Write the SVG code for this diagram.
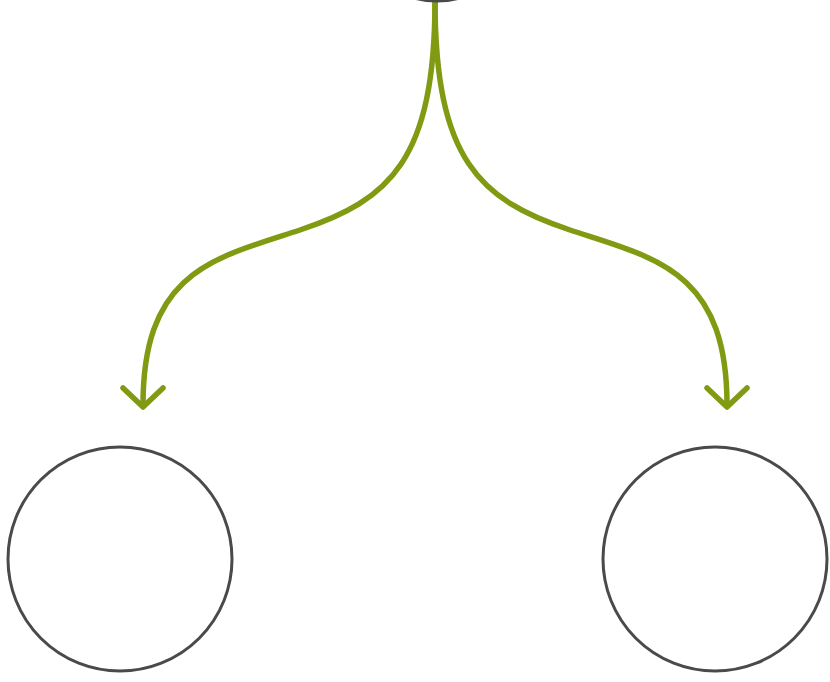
<svg xmlns="http://www.w3.org/2000/svg" width="830" height="682" viewBox="0 0 830 682">
<style>
.node{fill:#fff;stroke:#4a4a4a;stroke-width:3}
.edge{fill:none;stroke:#809a12;stroke-width:5.5;stroke-linecap:round;stroke-linejoin:round}
</style>
<rect width="830" height="682" fill="#fff"/>
<g id="connectors">
<path class="edge" d="M435,0 C435,160 390,200 300,230 C215,258 143,270 143,405"/>
<path class="edge" d="M123,388 L143,407 L163,388"/>
<path class="edge" d="M435,0 C435,160 480,200 570,230 C655,258 727,270 727,405"/>
<path class="edge" d="M707,388 L727,407 L747,388"/>
</g>
<g id="top"><ellipse class="node" cx="437" cy="-30" rx="52" ry="31"/></g>
<g id="left"><circle class="node" cx="120" cy="559" r="112"/></g>
<g id="right"><circle class="node" cx="715" cy="559" r="112"/></g>
</svg>
